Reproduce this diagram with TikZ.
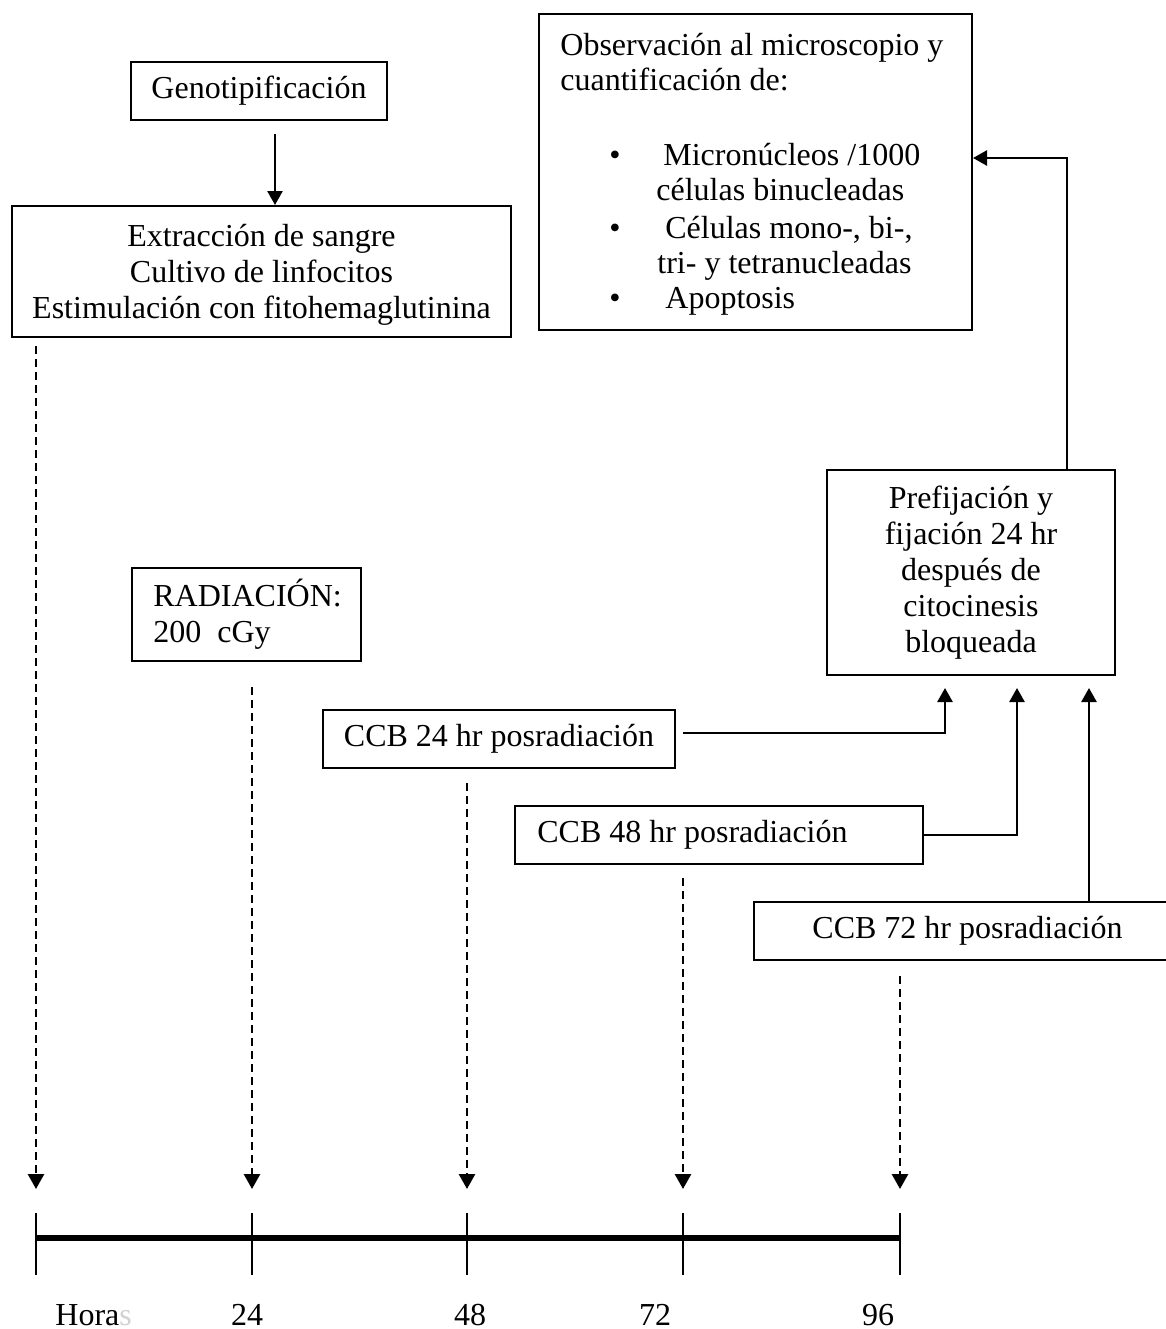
\documentclass[tikz,border=0pt]{standalone}
\usepackage{fontspec}
\setmainfont{Liberation Serif}
\usetikzlibrary{arrows.meta,calc}
\begin{document}
\begin{tikzpicture}[x=0.5pt,y=-0.5pt,
  txt/.style={font=\fontsize{16pt}{18pt}\selectfont},
  box/.style={txt,draw,line width=1pt,rectangle,inner sep=0pt,align=center},
  arr/.style={line width=1.3pt,-{Triangle[width=7.5pt,length=7pt]}},
  dasharr/.style={line width=1.4pt,dash pattern=on 4pt off 2.5pt,-{Triangle[width=8pt,length=7.5pt]}},
  tickline/.style={line width=1pt},
  axis/.style={line width=3pt}]
\useasboundingbox (0,0) rectangle (1166,1329);
\fill[white] (0,0) rectangle (1166,1329);

% boxes
\node[box,minimum width=128pt,minimum height=29pt] (geno) at (259,91) {Genotipificación};
\node[box,minimum width=249.5pt,minimum height=65.5pt] (extr) at (261.5,271.5) {};
\node[txt,inner sep=0pt,align=center] (extrtxt) at (261.5,275)
  {Extracción de sangre\\Cultivo de linfocitos\\Estimulación con fitohemaglutinina};
\node[box,minimum width=216.5pt,minimum height=158pt] (obs) at (755.5,172) {};
\node[txt,anchor=base west,inner sep=0pt] (o1) at (560,55) {Observación al microscopio y};
\node[txt,anchor=base west,inner sep=0pt] (o2) at (560,90) {cuantificación de:};
\node[txt,anchor=base,inner sep=0pt] (b1) at (615,165) {•};
\node[txt,anchor=base west,inner sep=0pt] (o3) at (663,165) {Micronúcleos /1000};
\node[txt,anchor=base west,inner sep=0pt] (o4) at (656,200) {células binucleadas};
\node[txt,anchor=base,inner sep=0pt] (b2) at (615,238) {•};
\node[txt,anchor=base west,inner sep=0pt] (o5) at (665,238) {Células mono-, bi-,};
\node[txt,anchor=base west,inner sep=0pt] (o6) at (657,273) {tri- y tetranucleadas};
\node[txt,anchor=base,inner sep=0pt] (b3) at (615,308) {•};
\node[txt,anchor=base west,inner sep=0pt] (o7) at (665,308) {Apoptosis};

\node[box,minimum width=144pt,minimum height=102.5pt] (pref) at (971,572.5)
  {Prefijación y\\fijación 24 hr\\después de\\citocinesis\\bloqueada};
\node[box,minimum width=114.5pt,minimum height=46.5pt] (rad) at (246.5,614.5) {};
\node[txt,anchor=base west,inner sep=0pt] (r1) at (153,606) {RADIACIÓN:};
\node[txt,anchor=base west,inner sep=0pt] (r2) at (153,642) {200\ \ cGy};
\node[box,minimum width=176pt,minimum height=29pt] (ccb24) at (499,739) {CCB 24 hr posradiación};
\node[box,minimum width=204pt,minimum height=29pt] (ccb48) at (719,835) {};
\node[txt,anchor=west,inner sep=0pt] (c48) at (537,835) {CCB 48 hr posradiación};
\begin{scope}
\clip (0,0) rectangle (1166,1329);
\node[box,minimum width=218pt,minimum height=29pt] (ccb72) at (972,931) {};
\end{scope}
\node[txt,anchor=west,inner sep=0pt] (c72) at (812,931) {CCB 72 hr posradiación};

% connectors
\coordinate (ga) at ($(geno.south)+(16,13)$);
\draw[arr] (ga) -- (ga |- extr.north);
\draw[arr] ($(pref.north)+(96,0)$) |- ($(obs.east)+(0,-14)$);
\coordinate (p1) at ($(pref.south)+(-26,12)$);
\coordinate (p2) at ($(pref.south)+(46,12)$);
\coordinate (p3) at ($(pref.south)+(118,12)$);
\draw[arr] ($(ccb24.east)+(7,-6)$) -| (p1);
\draw[arr] ($(ccb48.east)+(-2,0)$) -| (p2);
\draw[arr] (p3 |- ccb72.north) -- (p3);

% timeline
\coordinate (t0) at (36,1238);
\coordinate (t1) at (252,1238);
\coordinate (t2) at (467,1238);
\coordinate (t3) at (683,1238);
\coordinate (t4) at (900,1238);
\draw[axis] (t0) -- (t4);
\foreach \t in {t0,t1,t2,t3,t4}
  \draw[tickline] ($(\t)+(0,-25)$) -- ($(\t)+(0,37)$);

\draw[dasharr] ($(t0 |- extr.south)+(0,8)$) -- ($(t0)+(0,-49)$);
\draw[dasharr] ($(t1 |- rad.south)+(0,25)$) -- ($(t1)+(0,-49)$);
\draw[dasharr] ($(t2 |- ccb24.south)+(0,14)$) -- ($(t2)+(0,-49)$);
\draw[dasharr] ($(t3 |- ccb48.south)+(0,13)$) -- ($(t3)+(0,-49)$);
\draw[dasharr] ($(t4 |- ccb72.south)+(0,15)$) -- ($(t4)+(0,-49)$);

% labels
\node[txt,anchor=base west,inner sep=0pt] (horas) at (55,1325) {Hora\textcolor{gray!35}{s}};
\node[txt,anchor=base,inner sep=0pt] (l24) at (247,1325) {24};
\node[txt,anchor=base,inner sep=0pt] (l48) at (470,1325) {48};
\node[txt,anchor=base,inner sep=0pt] (l72) at (655,1325) {72};
\node[txt,anchor=base,inner sep=0pt] (l96) at (878,1325) {96};
\end{tikzpicture}
\end{document}
